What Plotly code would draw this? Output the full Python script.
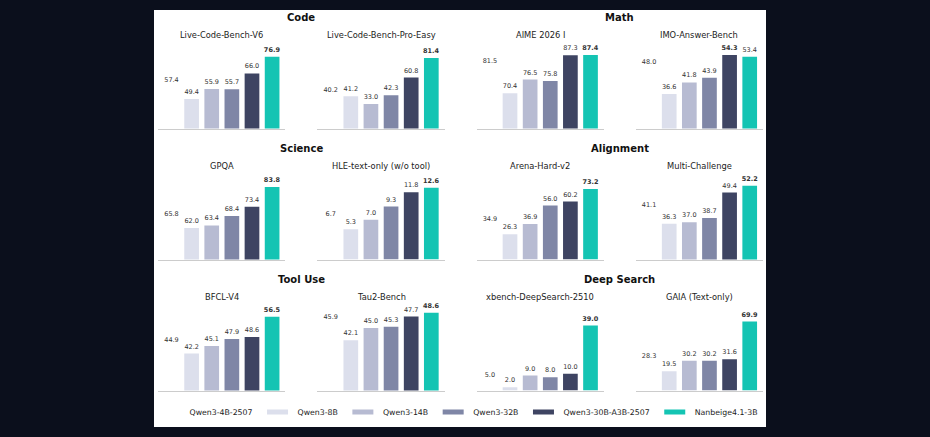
import plotly.graph_objects as go

models = ["Qwen3-4B-2507", "Qwen3-8B", "Qwen3-14B", "Qwen3-32B",
          "Qwen3-30B-A3B-2507", "Nanbeige4.1-3B"]
colors = ["#ffffff", "#dcdfec", "#b7bbd2", "#7f86a6", "#3e4462", "#14c4b3"]

groups = ["Code", "Math", "Science", "Alignment", "Tool Use", "Deep Search"]
benchmarks = ["Live-Code-Bench-V6", "Live-Code-Bench-Pro-Easy", "AIME 2026 I",
              "IMO-Answer-Bench", "GPQA", "HLE-text-only (w/o tool)",
              "Arena-Hard-v2", "Multi-Challenge", "BFCL-V4", "Tau2-Bench",
              "xbench-DeepSearch-2510", "GAIA (Text-only)"]

qwen3_4b = [57.4, 40.2, 81.5, 48.0, 65.8, 6.7, 34.9, 41.1, 44.9, 45.9, 5.0, 28.3]
qwen3_8b = [49.4, 41.2, 70.4, 36.6, 62.0, 5.3, 26.3, 36.3, 42.2, 42.1, 2.0, 19.5]
qwen3_14b = [55.9, 33.0, 76.5, 41.8, 63.4, 7.0, 36.9, 37.0, 45.1, 45.0, 9.0, 30.2]
qwen3_32b = [55.7, 42.3, 75.8, 43.9, 68.4, 9.3, 56.0, 38.7, 47.9, 45.3, 8.0, 30.2]
qwen3_30b = [66.0, 60.8, 87.3, 54.3, 73.4, 11.8, 60.2, 49.4, 48.6, 47.7, 10.0, 31.6]
nanbeige = [76.9, 81.4, 87.4, 53.4, 83.8, 12.6, 73.2, 52.2, 56.5, 48.6, 39.0, 69.9]

# y limits per panel (axes don't all start at zero)
y_ranges = [[30.2, 92.0], [7.2, 107.2], [54.8, 96.9], [20.9, 64.0],
            [45.3, 95.8], [0, 16.7], [0, 98.7], [21.4, 61.1],
            [27.8, 64.8], [30.2, 52.7], [0, 57.0], [0, 96.3]]

series = [qwen3_4b, qwen3_8b, qwen3_14b, qwen3_32b, qwen3_30b, nanbeige]

W, H = 930, 437
FONT = "DejaVu Sans"
BG = "#0b0f1c"
col_left = [158.2, 317.4, 476.6, 635.8]
col_w = 127.2
row_base = [128.5, 259.5, 390.5]
row_h = 95

fig = go.Figure()
layout = {}
annotations = []

for i, bench in enumerate(benchmarks):
    r, c = i // 4, i % 4
    vals = [s[i] for s in series]
    best = max(vals)
    labels = [f"<b>{v:.1f}</b>" if v == best else f"{v:.1f}" for v in vals]
    sfx = "" if i == 0 else str(i + 1)
    fig.add_trace(go.Bar(
        x=models, y=vals, text=labels, textposition="outside",
        textfont=dict(size=6.5, color="#333333", family=FONT),
        marker=dict(color=colors, line=dict(width=0)), width=0.73,
        constraintext="none", showlegend=False, hoverinfo="skip",
        xaxis="x" + sfx, yaxis="y" + sfx))

    x0 = col_left[c] / W
    x1 = (col_left[c] + col_w) / W
    y0 = 1 - row_base[r] / H
    y1 = 1 - (row_base[r] - row_h) / H
    layout["xaxis" + sfx] = dict(domain=[x0, x1], range=[-0.66, 5.66],
                                 showticklabels=False, ticks="", showgrid=False,
                                 showline=True, linecolor="#cccccc", linewidth=1,
                                 zeroline=False, anchor="y" + sfx, fixedrange=True)
    layout["yaxis" + sfx] = dict(domain=[y0, y1], range=y_ranges[i],
                                 visible=False, anchor="x" + sfx, fixedrange=True)
    annotations.append(dict(text=bench, x=(x0 + x1) / 2, y=1 - (row_base[r] - 94) / H,
                            xref="paper", yref="paper", showarrow=False,
                            font=dict(size=8.3, color="#222222", family=FONT),
                            xanchor="center", yanchor="middle"))

for g, name in enumerate(groups):
    r, half = g // 2, g % 2
    left = col_left[half * 2]
    right = col_left[half * 2 + 1] + col_w
    annotations.append(dict(text=f"<b>{name}</b>", x=(left + right) / 2 / W,
                            y=1 - (row_base[r] - 111.2) / H,
                            xref="paper", yref="paper", showarrow=False,
                            font=dict(size=10, color="#111111", family=FONT),
                            xanchor="center", yanchor="middle"))

# legend entries
for name, col in zip(models, colors):
    fig.add_trace(go.Scatter(x=[None], y=[None], mode="markers", name=name,
                             marker=dict(symbol="line-ew", size=15, color=col,
                                         line=dict(color=col, width=7))))

fig.update_layout(
    **layout,
    annotations=annotations,
    width=W, height=H,
    margin=dict(l=0, r=0, t=0, b=0),
    paper_bgcolor=BG,
    plot_bgcolor="rgba(0,0,0,0)",
    font=dict(family=FONT, size=8.3, color="#222222"),
    shapes=[dict(type="rect", xref="paper", yref="paper",
                 x0=154 / W, x1=766 / W, y0=1 - 427 / H, y1=1 - 10 / H,
                 fillcolor="white", line=dict(width=0), layer="below")],
    legend=dict(orientation="h", x=456 / W, y=1 - 412 / H,
                xanchor="center", yanchor="middle",
                font=dict(size=7.8, color="#222222", family=FONT),
                bgcolor="rgba(0,0,0,0)"),
)

fig.write_html("out.html", config={"displayModeBar": False},
               post_script="document.body.style.margin='0';"
                           f"document.body.style.background='{BG}';")
